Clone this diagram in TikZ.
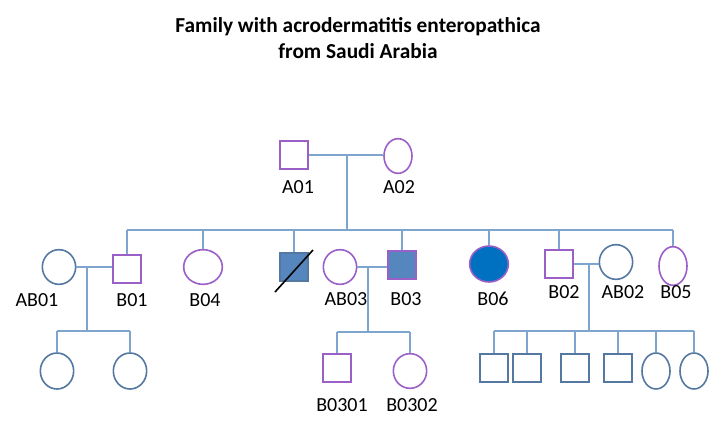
\documentclass[tikz,border=0pt]{standalone}
\usepackage{fontspec}
\setmainfont{Carlito}
\usetikzlibrary{shapes.geometric}
\definecolor{lilac}{RGB}{155,95,200}
\definecolor{steel}{RGB}{85,120,160}
\definecolor{linkblue}{RGB}{125,165,205}
\definecolor{fillblue}{RGB}{85,135,190}
\definecolor{brightblue}{RGB}{0,112,192}
\tikzset{
	male/.style={draw=lilac, rectangle, minimum size=21pt, inner sep=0pt, line width=1.2pt},
	female/.style={draw=lilac, ellipse, minimum width=25pt, minimum height=26pt, inner sep=0pt, line width=1.2pt},
	inlaw/.style={female, draw=steel},
	kidm/.style={male, draw=steel},
	kidf/.style={female, draw=steel, minimum width=21pt, minimum height=27pt},
	link/.style={draw=linkblue, line width=1.6pt},
	lab/.style={font=\fontsize{15}{18}\selectfont, inner sep=0pt},
	ttl/.style={font=\fontsize{16}{19}\selectfont\bfseries, align=center}
}

\begin{document}
\begin{tikzpicture}[x=0.75pt,y=-0.75pt]
	\useasboundingbox (0,0) rectangle (725,429);
	\node[ttl] (title) at (358,38) {Family with acrodermatitis enteropathica\\from Saudi Arabia};

	% first generation
	\node[male] (a01) at (294,155) {};
	\node[female, minimum width=21pt] (a02) at (398,156) {};
	\node[lab] (la01) at (298,187) {A01};
	\node[lab] (la02) at (399,187) {A02};
	\coordinate (sa) at (347,230);
	\coordinate (ma) at (a01.east -| sa);
	\draw[link] (a01.east) -- (a01.east -| a02.west);
	\draw[link] (ma) -- (sa);

	% second generation
	\node[inlaw] (ab01) at (59,267) {};
	\node[male] (b01) at (127,269) {};
	\node[female, minimum width=29pt] (b04) at (203,267) {};
	\node[male, draw=steel, fill=fillblue] (bd) at (294,267) {};
	\draw[black, line width=1.2pt] (bd.center) +(-19,25) -- +(19,-17);
	\node[female] (ab03) at (340,267) {};
	\node[male, fill=fillblue] (b03) at (402,265) {};
	\node[female, fill=brightblue, minimum width=29pt, minimum height=27pt] (b06) at (489,264) {};
	\node[male] (b02) at (559,264) {};
	\node[inlaw] (ab02) at (616,262) {};
	\node[female, minimum width=21pt, minimum height=29pt] (b05) at (673,266) {};

	\node[lab] (lab01) at (37,300) {AB01};
	\node[lab] (lb01) at (132,300) {B01};
	\node[lab] (lb04) at (205,300) {B04};
	\node[lab] (lab03) at (346,299) {AB03};
	\node[lab] (lb03) at (406,299) {B03};
	\node[lab] (lb06) at (493,299) {B06};
	\node[lab] (lb02) at (564,292) {B02};
	\node[lab] (lab02) at (623,292) {AB02};
	\node[lab] (lb05) at (676,292) {B05};

	\draw[link] (b01.north |- sa) -- (b05.north |- sa);
	\foreach \k in {b01,b04,bd,b03,b06,b02,b05}
		\draw[link] (\k.north |- sa) -- (\k.north);

	% couples
	\coordinate (s1) at (87,331);
	\coordinate (s3) at (368,332);
	\coordinate (s2) at (589,331);
	\coordinate (m1) at (ab01.east -| s1);
	\coordinate (m3) at (ab03.east -| s3);
	\coordinate (m2) at (b02.east -| s2);
	\draw[link] (ab01.east) -- (b01.west |- ab01.east);
	\draw[link] (ab03.east) -- (b03.west |- ab03.east);
	\draw[link] (b02.east) -- (b02.east -| ab02.west);
	\draw[link] (m1) -- (s1);
	\draw[link] (m3) -- (s3);
	\draw[link] (m2) -- (s2);

	% third generation
	\node[kidf, minimum width=25pt] (c11) at (57,371) {};
	\node[kidf, minimum width=25pt] (c12) at (130,371) {};
	\draw[link] (c11.north |- s1) -- (c12.north |- s1);
	\foreach \k in {c11,c12}
		\draw[link] (\k.north |- s1) -- (\k.north);

	\node[male] (b0301) at (337,368) {};
	\node[female] (b0302) at (410,371) {};
	\node[lab] (lb0301) at (342,405) {B0301};
	\node[lab] (lb0302) at (412,405) {B0302};
	\draw[link] (b0301.north |- s3) -- (b0302.north |- s3);
	\foreach \k in {b0301,b0302}
		\draw[link] (\k.north |- s3) -- (\k.north);

	\node[kidm] (c21) at (494,368) {};
	\node[kidm] (c22) at (527,368) {};
	\node[kidm] (c23) at (575,368) {};
	\node[kidm] (c24) at (618,368) {};
	\node[kidf] (c25) at (656,371) {};
	\node[kidf] (c26) at (694,371) {};
	\draw[link] (c21.north |- s2) -- (c26.north |- s2);
	\foreach \k in {c21,c22,c23,c24,c25,c26}
		\draw[link] (\k.north |- s2) -- (\k.north);
\end{tikzpicture}
\end{document}
